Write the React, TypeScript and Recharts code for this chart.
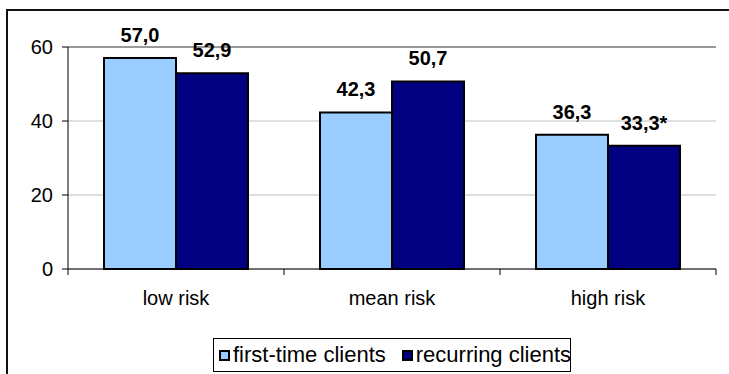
import React from 'react';
import { BarChart, Bar, XAxis, YAxis, CartesianGrid, LabelList, Legend, ReferenceLine } from 'recharts';

const categories = ['low risk', 'mean risk', 'high risk'];
const firstTime = [57.0, 42.3, 36.3];
const recurring = [52.9, 50.7, 33.3];
const recurringNotes = ['', '', '*'];
const yTicks = [0, 20, 40, 60];
const seriesNames = ['first-time clients', 'recurring clients'];
const colors = ['#99CCFF', '#000080'];

const data = categories.map((c, i) => ({
  category: c,
  first: firstTime[i],
  recurring: recurring[i],
  note: recurringNotes[i],
}));

const W = 729;
const H = 374;
const MARGIN = { top: 47, right: 13, left: 0, bottom: 0 };
const Y_WIDTH = 68;
const PLOT_W = W - MARGIN.left - MARGIN.right - Y_WIDTH;
const BAND = PLOT_W / categories.length;
const FONT = '"Liberation Sans", Arial, sans-serif';

const fmt = (v: number) => v.toFixed(1).replace('.', ',');

function XTick(props: any) {
  const { x, y, payload, index } = props;
  const half = BAND / 2;
  return (
    <g>
      <line x1={x - half} x2={x - half} y1={y} y2={y + 6} stroke="#000" strokeWidth={1} />
      {index === categories.length - 1 && (
        <line x1={x + half} x2={x + half} y1={y} y2={y + 6} stroke="#000" strokeWidth={1} />
      )}
      <text x={x} y={y + 36} textAnchor="middle" fontFamily={FONT} fontSize={20} fill="#000">
        {payload.value}
      </text>
    </g>
  );
}

function LegendBox() {
  return (
    <div
      style={{
        boxSizing: 'border-box',
        width: 358,
        height: 34,
        border: '1px solid #000',
        display: 'flex',
        alignItems: 'center',
        padding: '0 0 0 5px',
        fontFamily: FONT,
        fontSize: 22,
        color: '#000',
        background: '#fff',
        whiteSpace: 'nowrap',
      }}
    >
      {seriesNames.map((n, i) => (
        <span key={n} style={{ display: 'flex', alignItems: 'center', marginRight: i === 0 ? 16 : 0 }}>
          <span
            style={{
              boxSizing: 'border-box',
              width: 11,
              height: 11,
              border: '2px solid #000',
              background: colors[i],
              marginRight: 3,
              display: 'inline-block',
            }}
          />
          <span>{n}</span>
        </span>
      ))}
    </div>
  );
}

export default function App() {
  return (
    <div style={{ position: 'absolute', left: 0, top: 0, width: W, height: H, overflow: 'hidden', background: '#fff' }}>
      <div
        style={{
          position: 'absolute',
          left: 6,
          top: 9,
          width: W,
          height: H,
          borderLeft: '2px solid #111',
          borderTop: '2px solid #111',
        }}
      />
      <BarChart
        width={W}
        height={H}
        data={data}
        margin={MARGIN}
        barCategoryGap="16.67%"
        barGap={0}
        style={{ position: 'absolute', left: 0, top: 0 }}
      >
        <CartesianGrid horizontal vertical={false} stroke="#c0c0c0" strokeWidth={1} />
        <XAxis
          dataKey="category"
          tickSize={0}
          tickMargin={0}
          tickLine={false}
          height={H - 269}
          axisLine={{ stroke: '#000', strokeWidth: 1 }}
          tick={<XTick />}
          interval={0}
        />
        <XAxis xAxisId="n" type="number" domain={[0, categories.length]} hide />
        <YAxis
          width={Y_WIDTH}
          domain={[0, 60]}
          ticks={yTicks}
          tickSize={6}
          tickMargin={9}
          axisLine={{ stroke: '#000', strokeWidth: 1 }}
          tickLine={{ stroke: '#000' }}
          tick={{ fontFamily: FONT, fontSize: 20, fill: '#000' }}
          interval={0}
        />
        <ReferenceLine y={60} stroke="#999" strokeWidth={2} />
        <ReferenceLine x={categories.length} xAxisId="n" stroke="#999" strokeWidth={2} />
        <Legend
          layout="horizontal"
          verticalAlign="middle"
          align="center"
          wrapperStyle={{ left: 213, top: 338, width: 358, height: 34 }}
          content={() => <LegendBox />}
        />
        <Bar dataKey="first" name={seriesNames[0]} fill={colors[0]} stroke="#000" strokeWidth={2} isAnimationActive={false}>
          <LabelList
            dataKey="first"
            position="top"
            offset={16}
            formatter={(v: any) => fmt(Number(v))}
            style={{ fontFamily: FONT, fontSize: 20, fontWeight: 'bold', fill: '#000' }}
          />
        </Bar>
        <Bar dataKey="recurring" name={seriesNames[1]} fill={colors[1]} stroke="#000" strokeWidth={2} isAnimationActive={false}>
          <LabelList
            dataKey="recurring"
            position="top"
            offset={16}
            content={(p: any) => {
              const { x, y, width, index, value } = p;
              return (
                <text
                  x={x + width / 2}
                  y={y - 16}
                  textAnchor="middle"
                  fontFamily={FONT}
                  fontSize={20}
                  fontWeight="bold"
                  fill="#000"
                >
                  {fmt(Number(value)) + data[index].note}
                </text>
              );
            }}
          />
        </Bar>
      </BarChart>
    </div>
  );
}
